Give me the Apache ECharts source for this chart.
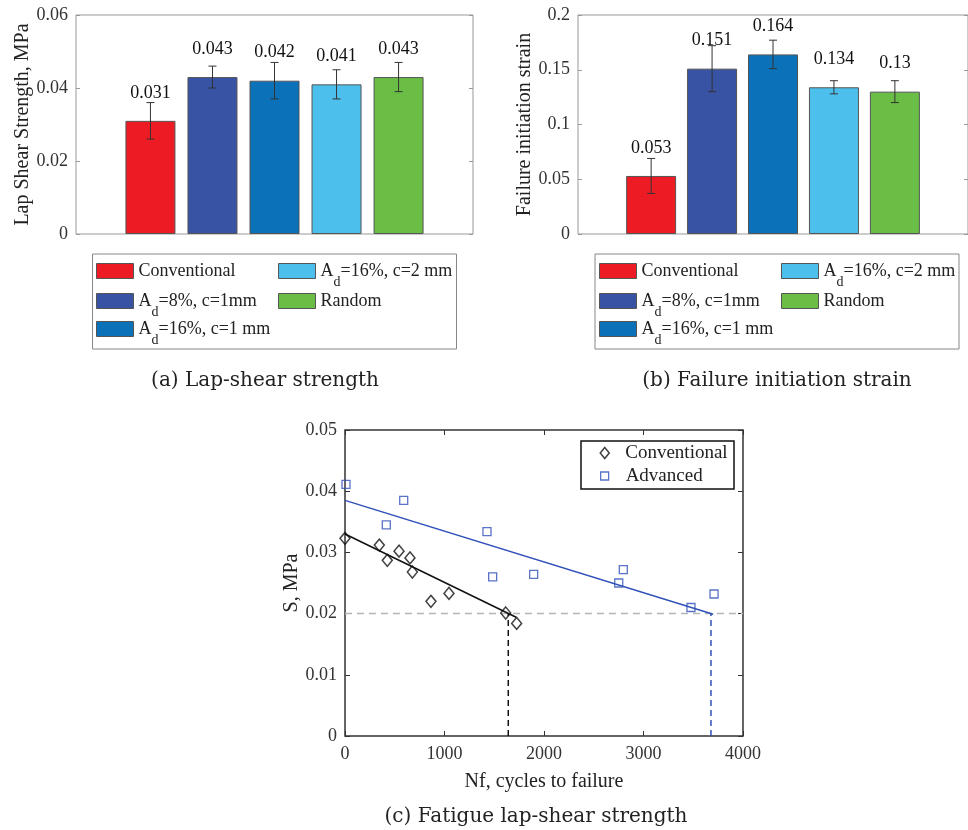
<!DOCTYPE html>
<html>
<head>
<meta charset="utf-8">
<script src="https://cdn.jsdelivr.net/npm/echarts@6/dist/echarts.min.js"></script>
<style>
html,body{margin:0;padding:0;background:#fff;}
#main{width:968px;height:830px;}
</style>
</head>
<body>
<div id="main"></div>
<script>
// ---------- data ----------
const categoryKeys = ['c0', 'c1', 'c2', 'c3', 'c4'];
const categoryLabels = ['Conventional', 'A_d=8%, c=1mm', 'A_d=16%, c=1 mm', 'A_d=16%, c=2 mm', 'Random'];
const strengthVals = [0.031, 0.043, 0.042, 0.041, 0.043];
const strengthErr = [0.005, 0.003, 0.005, 0.004, 0.004];
const strainVals = [0.053, 0.151, 0.164, 0.134, 0.13];
const strainErr = [0.016, 0.021, 0.013, 0.006, 0.010];

const convNf = [0, 345, 425, 543, 653, 677, 864, 1045, 1615, 1725];
const convS = [0.0323, 0.0312, 0.0287, 0.0302, 0.0291, 0.0268, 0.0220, 0.0233, 0.0201, 0.0184];
const advNf = [10, 415, 590, 1427, 1484, 1896, 2751, 2797, 3477, 3709];
const advS = [0.0411, 0.0345, 0.0385, 0.0334, 0.0260, 0.0264, 0.0250, 0.0272, 0.0210, 0.0232];
const convFitNf = [0, 1720];
const convFitS = [0.0330, 0.0194];
const advFitNf = [0, 3700];
const advFitS = [0.0385, 0.0199];
const thresholdS = 0.02;
const convLifeNf = 1641;
const advLifeNf = 3678;
const fatigueLegend = ['Conventional', 'Advanced'];

const captions = ['(a) Lap-shear strength', '(b) Failure initiation strain', '(c) Fatigue lap-shear strength'];
const yTitles = ['Lap Shear Strength, MPa', 'Failure initiation strain', 'S, MPa'];
const xTitle = 'Nf, cycles to failure';

// ---------- styles ----------
const barColors = ['#ED1C24', '#3953A4', '#0B71B9', '#4DBFEC', '#6ABD45'];
const SERIF = 'Liberation Serif';
const CM = 'DejaVu Serif';
const advBlue = '#2F50B8';

function toRich(label) {
  const i = label.indexOf('_d');
  if (i < 0) return '{n|' + label + '}{s| }';
  return '{n|' + label.slice(0, i) + '}{s|d}{n|' + label.slice(i + 2) + '}';
}
const labelMap = {};
categoryKeys.forEach((k, i) => labelMap[k] = toRich(categoryLabels[i]));
labelMap['fatConv'] = '{sp| }{t|' + fatigueLegend[0] + '}';
labelMap['fatAdv'] = '{sp2| }{t|' + fatigueLegend[1] + '}';

const chart = echarts.init(document.getElementById('main'), null, {renderer: 'canvas'});

function errRender(params, api) {
  const x = api.value(0), lo = api.value(1), hi = api.value(2);
  const pLo = api.coord([x, lo]), pHi = api.coord([x, hi]);
  const hw = 4;
  const st = {stroke: '#333', lineWidth: 1};
  return {type: 'group', children: [
    {type: 'line', shape: {x1: pLo[0], y1: pLo[1], x2: pHi[0], y2: pHi[1]}, style: st},
    {type: 'line', shape: {x1: pLo[0] - hw, y1: pLo[1], x2: pLo[0] + hw, y2: pLo[1]}, style: st},
    {type: 'line', shape: {x1: pHi[0] - hw, y1: pHi[1], x2: pHi[0] + hw, y2: pHi[1]}, style: st}
  ]};
}

const series = [];
function addBars(vals, errs, gi) {
  vals.forEach((v, i) => {
    series.push({
      type: 'bar', name: categoryKeys[i], xAxisIndex: gi, yAxisIndex: gi * 2,
      data: [[i + 1, v]], barWidth: 50, barGap: '-100%',
      itemStyle: {color: barColors[i], borderColor: '#555', borderWidth: 1},
      label: {show: true, position: 'top', distance: 19, fontFamily: SERIF, fontSize: 18, color: '#111',
        formatter: p => String(p.value[1])},
      emphasis: {disabled: true}, animation: false
    });
  });
  series.push({
    type: 'custom', xAxisIndex: gi, yAxisIndex: gi * 2, z: 5,
    data: vals.map((v, i) => [i + 1, v - errs[i], v + errs[i]]),
    encode: {x: 0, y: [1, 2]}, renderItem: errRender, animation: false, silent: true
  });
}
addBars(strengthVals, strengthErr, 0);
addBars(strainVals, strainErr, 1);

// fatigue chart
series.push({type: 'line', name: 'thr', xAxisIndex: 2, yAxisIndex: 4, data: [[0, thresholdS], [4000, thresholdS]],
  symbol: 'none', lineStyle: {color: '#b5b5b5', width: 1.5, type: [7, 5]}, silent: true, animation: false});
series.push({type: 'line', name: 'convLife', xAxisIndex: 2, yAxisIndex: 4, data: [[convLifeNf, 0], [convLifeNf, thresholdS]],
  symbol: 'none', lineStyle: {color: '#111', width: 1.5, type: [6, 4]}, silent: true, animation: false});
series.push({type: 'line', name: 'advLife', xAxisIndex: 2, yAxisIndex: 4, data: [[advLifeNf, 0], [advLifeNf, thresholdS]],
  symbol: 'none', lineStyle: {color: advBlue, width: 1.5, type: [6, 4]}, silent: true, animation: false});
series.push({type: 'line', name: 'convFit', xAxisIndex: 2, yAxisIndex: 4, data: convFitNf.map((x, i) => [x, convFitS[i]]),
  symbol: 'none', lineStyle: {color: '#111', width: 1.5}, silent: true, animation: false});
series.push({type: 'line', name: 'advFit', xAxisIndex: 2, yAxisIndex: 4, data: advFitNf.map((x, i) => [x, advFitS[i]]),
  symbol: 'none', lineStyle: {color: advBlue, width: 1.5}, silent: true, animation: false});
series.push({type: 'scatter', name: 'fatConv', xAxisIndex: 2, yAxisIndex: 4, data: convNf.map((x, i) => [x, convS[i]]),
  symbol: 'diamond', symbolSize: [10, 12], z: 4,
  itemStyle: {color: 'rgba(255,255,255,0)', borderColor: '#111', borderWidth: 1.5}, animation: false});
series.push({type: 'scatter', name: 'fatAdv', xAxisIndex: 2, yAxisIndex: 4, data: advNf.map((x, i) => [x, advS[i]]),
  symbol: 'rect', symbolSize: 8, z: 4,
  itemStyle: {color: 'rgba(255,255,255,0)', borderColor: advBlue, borderWidth: 1.3}, animation: false});

const tickLbl = {fontFamily: SERIF, fontSize: 18, color: '#333', margin: 8};
const nameStyle = {fontFamily: SERIF, fontSize: 20, color: '#222'};

function barX(gi) {
  return {gridIndex: gi, type: 'value', min: -0.2, max: 6.2, show: false};
}
function barYs(gi, max, interval, title) {
  return [
    {gridIndex: gi, type: 'value', min: 0, max: max, interval: interval, position: 'left',
      axisLine: {show: false, onZero: false}, splitLine: {show: false},
      axisTick: {show: true, inside: true, length: 4, lineStyle: {color: '#999'}},
      axisLabel: tickLbl, name: title, nameLocation: 'middle', nameGap: 42, nameTextStyle: nameStyle},
    {gridIndex: gi, type: 'value', min: 0, max: max, interval: interval, position: 'right',
      axisLine: {show: false, onZero: false}, splitLine: {show: false},
      axisTick: {show: true, inside: true, length: 4, lineStyle: {color: '#999'}},
      axisLabel: {show: false}}
  ];
}

const richStyles = {
  n: {fontFamily: SERIF, fontSize: 18, color: '#222', lineHeight: 22},
  s: {fontFamily: SERIF, fontSize: 14, color: '#222', lineHeight: 22, padding: [22, 0, 0, 0]}
};
function barLegend(left, top, key) {
  return {
    left: left, top: top, orient: 'vertical', itemWidth: 37, itemHeight: 15, padding: 0,
    icon: 'rect', data: [key], selectedMode: false,
    itemStyle: {borderColor: '#555', borderWidth: 1},
    formatter: name => labelMap[name],
    textStyle: {fontFamily: SERIF, fontSize: 18, color: '#222', lineHeight: 22, rich: richStyles}
  };
}
const rowTops = [253, 283, 311];
const legends = [];
[[96, 278], [599, 781]].forEach(cols => {
  categoryKeys.forEach((k, i) => {
    const col = i < 3 ? 0 : 1;
    const row = i < 3 ? i : i - 3;
    legends.push(barLegend(cols[col], rowTops[row], k));
  });
});
const fatRich = {
  t: {fontFamily: SERIF, fontSize: 19, color: '#222', lineHeight: 20},
  sp: {width: 11, lineHeight: 20, fontSize: 10},
  sp2: {width: 12, lineHeight: 20, fontSize: 10}
};
legends.push({left: 599.5, top: 443, itemWidth: 9, itemHeight: 11, padding: 0,
  data: ['fatConv'], selectedMode: false, itemStyle: {borderWidth: 1.5},
  formatter: name => labelMap[name], textStyle: {fontFamily: SERIF, fontSize: 19, color: '#222', lineHeight: 20, rich: fatRich}});
legends.push({left: 600, top: 466, itemWidth: 8, itemHeight: 8, padding: 0,
  data: ['fatAdv'], selectedMode: false, itemStyle: {borderWidth: 1.3},
  formatter: name => labelMap[name], textStyle: {fontFamily: SERIF, fontSize: 19, color: '#222', lineHeight: 20, rich: fatRich}});

const option = {
  backgroundColor: '#fff',
  animation: false,
  grid: [
    {left: 76, top: 15, width: 397, height: 219, show: true, borderColor: '#999', borderWidth: 1, backgroundColor: 'transparent'},
    {left: 578, top: 15, width: 397, height: 219, show: true, borderColor: '#999', borderWidth: 1, backgroundColor: 'transparent'},
    {left: 345, top: 430, width: 398, height: 306, show: true, borderColor: '#333', borderWidth: 1.5, backgroundColor: 'transparent'}
  ],
  xAxis: [
    barX(0), barX(1),
    {gridIndex: 2, type: 'value', min: 0, max: 4000, interval: 1000, position: 'bottom',
      axisLine: {show: false, onZero: false}, splitLine: {show: false},
      axisTick: {show: true, inside: true, length: 5, lineStyle: {color: '#333'}},
      axisLabel: Object.assign({}, tickLbl, {margin: 9, formatter: v => String(v)}),
      name: xTitle, nameLocation: 'middle', nameGap: 36, nameTextStyle: nameStyle},
    {gridIndex: 2, type: 'value', min: 0, max: 4000, interval: 1000, position: 'top',
      axisLine: {show: false, onZero: false}, splitLine: {show: false},
      axisTick: {show: true, inside: true, length: 5, lineStyle: {color: '#333'}},
      axisLabel: {show: false}}
  ],
  yAxis: [
    ...barYs(0, 0.06, 0.02, yTitles[0]),
    ...barYs(1, 0.2, 0.05, yTitles[1]),
    {gridIndex: 2, type: 'value', min: 0, max: 0.05, interval: 0.01, position: 'left',
      axisLine: {show: false, onZero: false}, splitLine: {show: false},
      axisTick: {show: true, inside: true, length: 5, lineStyle: {color: '#333'}},
      axisLabel: tickLbl, name: yTitles[2], nameLocation: 'middle', nameGap: 37, nameTextStyle: nameStyle},
    {gridIndex: 2, type: 'value', min: 0, max: 0.05, interval: 0.01, position: 'right',
      axisLine: {show: false, onZero: false}, splitLine: {show: false},
      axisTick: {show: true, inside: true, length: 5, lineStyle: {color: '#333'}},
      axisLabel: {show: false}}
  ],
  legend: legends,
  graphic: [
    {type: 'rect', shape: {x: 92.5, y: 254, width: 364, height: 95}, style: {fill: 'none', stroke: '#888', lineWidth: 1}, silent: true},
    {type: 'rect', shape: {x: 595, y: 254, width: 364, height: 95}, style: {fill: 'none', stroke: '#888', lineWidth: 1}, silent: true},
    {type: 'rect', shape: {x: 581, y: 441, width: 153, height: 48}, style: {fill: 'none', stroke: '#111', lineWidth: 1.5}, silent: true},
    {type: 'text', x: 265, y: 381, style: {text: captions[0], font: '20px "' + CM + '"', fill: '#222', textAlign: 'center', textVerticalAlign: 'middle'}, silent: true},
    {type: 'text', x: 777, y: 381, style: {text: captions[1], font: '20px "' + CM + '"', fill: '#222', textAlign: 'center', textVerticalAlign: 'middle'}, silent: true},
    {type: 'text', x: 536, y: 817, style: {text: captions[2], font: '20px "' + CM + '"', fill: '#222', textAlign: 'center', textVerticalAlign: 'middle'}, silent: true}
  ],
  series: series
};
chart.setOption(option);
</script>
</body>
</html>
